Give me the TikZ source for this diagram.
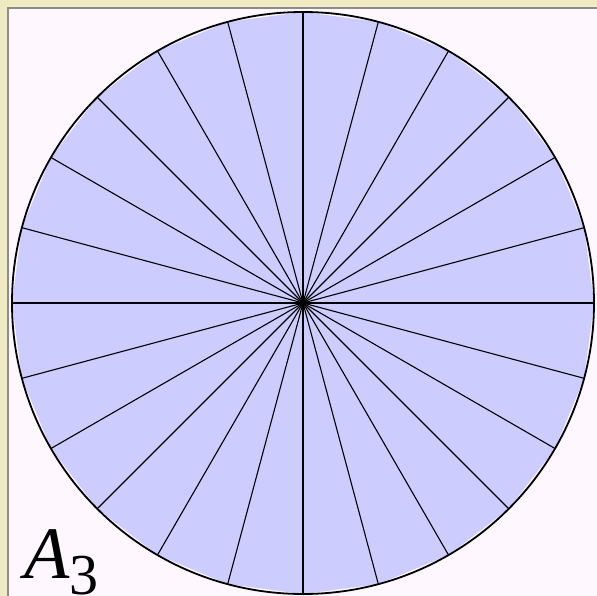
\documentclass[tikz,border=0pt]{standalone}
\usepackage{fontspec}
\setmainfont{Liberation Serif}
\definecolor{framebg}{HTML}{EFEAC2}
\definecolor{paperbg}{HTML}{FEF8FE}
\definecolor{sectorfill}{HTML}{CCCCFF}
\tikzset{
    frame/.style={fill=paperbg, draw=black!45, line width=2pt},
    sector/.style={fill=sectorfill},
    spoke/.style={draw=black, line width=1.1pt},
    rim/.style={draw=black, line width=1.8pt},
    lbl/.style={font=\fontsize{74}{74}\selectfont\itshape, inner sep=0pt},
}

\begin{document}
\begin{tikzpicture}[x=1pt, y=-1pt]
    \useasboundingbox (0,0) rectangle (597,596);

    % frame and paper
    \fill[framebg] (0,0) rectangle (597,596);
    \draw[frame] (8,8) rectangle (606,606);

    \coordinate (centre) at (303,303);

    % 24 corners of the polygon
    \foreach \k in {0,...,23}
        \coordinate (v\k) at ([shift={(\k*15:291)}]centre);

    \fill[sector] (v0) \foreach \k in {1,...,23} { -- (v\k) } -- cycle;

    % spokes from the centre
    \foreach \k in {0,...,23}
        \draw[spoke] (centre) -- (v\k);

    \draw[rim] (centre) circle[radius=291];

    \node[lbl, anchor=base west] (area) at (24,578)
        {A\raisebox{-16pt}{\fontsize{58}{58}\selectfont\upshape 3}};

\end{tikzpicture}
\end{document}
